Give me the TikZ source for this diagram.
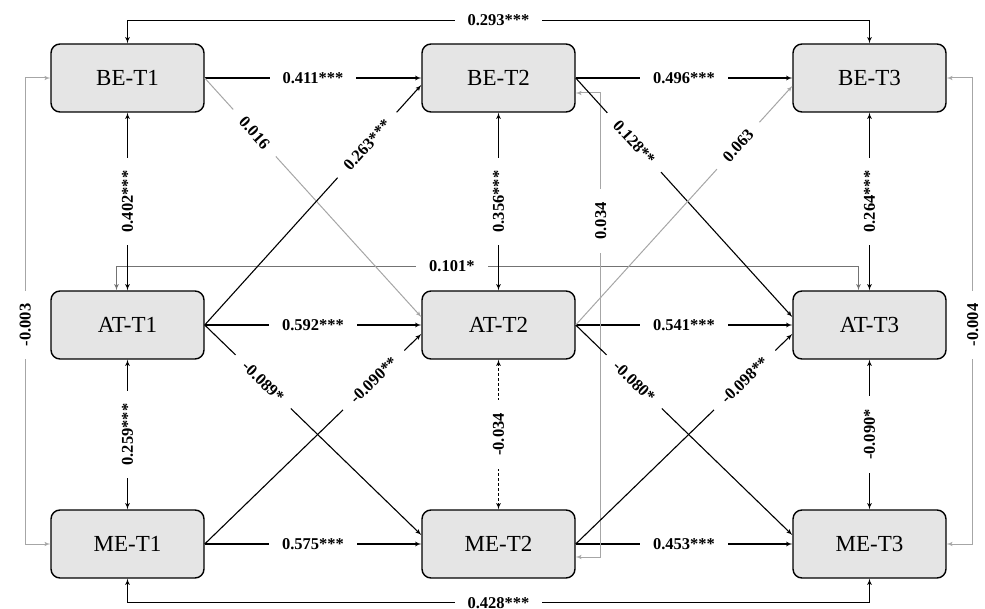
\documentclass[tikz,border=0pt]{standalone}
\usepackage{fontspec}
\setmainfont{Liberation Serif}
\usepackage{tikz}
\usetikzlibrary{arrows}

\begin{document}
\begin{tikzpicture}[x=1pt,y=1pt,node distance=371pt,>=latex',
  box/.style={draw,line width=1.4pt,rounded corners=9pt,fill=black!10,minimum width=153pt,minimum height=68pt,font=\fontsize{23}{25}\selectfont},
  lab/.style={fill=white,text=black,font=\bfseries\fontsize{16.5}{18}\selectfont,inner xsep=13pt,inner ysep=1pt},
  link/.style={line width=1.1pt},
  weak/.style={line width=1pt,black!35}]
\useasboundingbox (0,0) rectangle (985,608);
\draw node [box] (BE1) at (127.5,530)                   {BE-T1};
\draw node [box] [right of=BE1] (BE2)                   {BE-T2};
\draw node [box] [right of=BE2] (BE3)                   {BE-T3};
\draw node [box] [below of=BE1,node distance=247pt] (AT1) {AT-T1};
\draw node [box] [right of=AT1] (AT2)                   {AT-T2};
\draw node [box] [right of=AT2] (AT3)                   {AT-T3};
\draw node [box] [below of=AT1,node distance=219pt] (ME1) {ME-T1};
\draw node [box] [right of=ME1] (ME2)                   {ME-T2};
\draw node [box] [right of=ME2] (ME3)                   {ME-T3};
% stability paths
\draw [link,->] (BE1) -- node [lab] {0.411***} (BE2);
\draw [link,->] (BE2) -- node [lab] {0.496***} (BE3);
\draw [link,->] (AT1) -- node [lab] {0.592***} (AT2);
\draw [link,->] (AT2) -- node [lab] {0.541***} (AT3);
\draw [link,->] (ME1) -- node [lab] {0.575***} (ME2);
\draw [link,->] (ME2) -- node [lab] {0.453***} (ME3);
\draw [link,<->] (BE1.north) -- ++(0,23) -| node [lab,pos=.25] {0.293***} (BE3.north);
\draw [link,<->] (ME1.south) -- ++(0,-24) -| node [lab,pos=.25] {0.428***} (ME3.south);
\draw [link,black!55,<->] ([xshift=-11pt]AT1.north) -- ++(0,24) -| node [lab,pos=.226] {0.101*} ([xshift=-11pt]AT3.north);
\draw [weak,<->] (BE1.west) -- ++(-25,0) |- node [lab,pos=.265,rotate=90] {-0.003} (ME1.west);
\draw [weak,<->] (BE3.east) -- ++(26,0) |- node [lab,pos=.265,rotate=90] {-0.004} (ME3.east);
\draw [weak,<->] ([yshift=-15pt]BE2.east) -- ++(25,0) |- node [lab,pos=.138,rotate=90] {0.034} ([yshift=-13pt]ME2.east);
% within-wave correlations
\draw [link,<->] (BE1) -- node [lab,rotate=90] {0.402***} (AT1);
\draw [link,<->] (AT1) -- node [lab,rotate=90] {0.259***} (ME1);
\draw [link,<->] (BE2) -- node [lab,rotate=90] {0.356***} (AT2);
\draw [link,<->,dash pattern=on 3pt off 2pt] (AT2) -- node [lab,rotate=90] {-0.034} (ME2);
\draw [link,<->] (BE3) -- node [lab,rotate=90] {0.264***} (AT3);
\draw [link,<->] (AT3) -- node [lab,rotate=90] {-0.090*} (ME3);
% cross-lagged paths
\draw [weak,->] (BE1.east) -- node [lab,sloped,pos=.23] {0.016} ([yshift=8pt]AT2.west);
\draw [link,->] (AT1.east) -- node [lab,sloped,pos=.75] {0.263***} ([yshift=-7pt]BE2.west);
\draw [link,->] (AT1.east) -- node [lab,sloped,pos=.27] {-0.089*} ([yshift=9pt]ME2.west);
\draw [link,->] (ME1.east) -- node [lab,sloped,pos=.78] {-0.090**} ([yshift=-9pt]AT2.west);
\draw [link,->] (BE2.east) -- node [lab,sloped,pos=.27] {0.128**} ([yshift=8pt]AT3.west);
\draw [weak,->] (AT2.east) -- node [lab,sloped,pos=.75] {0.063} ([yshift=-8pt]BE3.west);
\draw [link,->] (AT2.east) -- node [lab,sloped,pos=.27] {-0.080*} ([yshift=9pt]ME3.west);
\draw [link,->] (ME2.east) -- node [lab,sloped,pos=.78] {-0.098**} ([yshift=-9pt]AT3.west);
\end{tikzpicture}
\end{document}
